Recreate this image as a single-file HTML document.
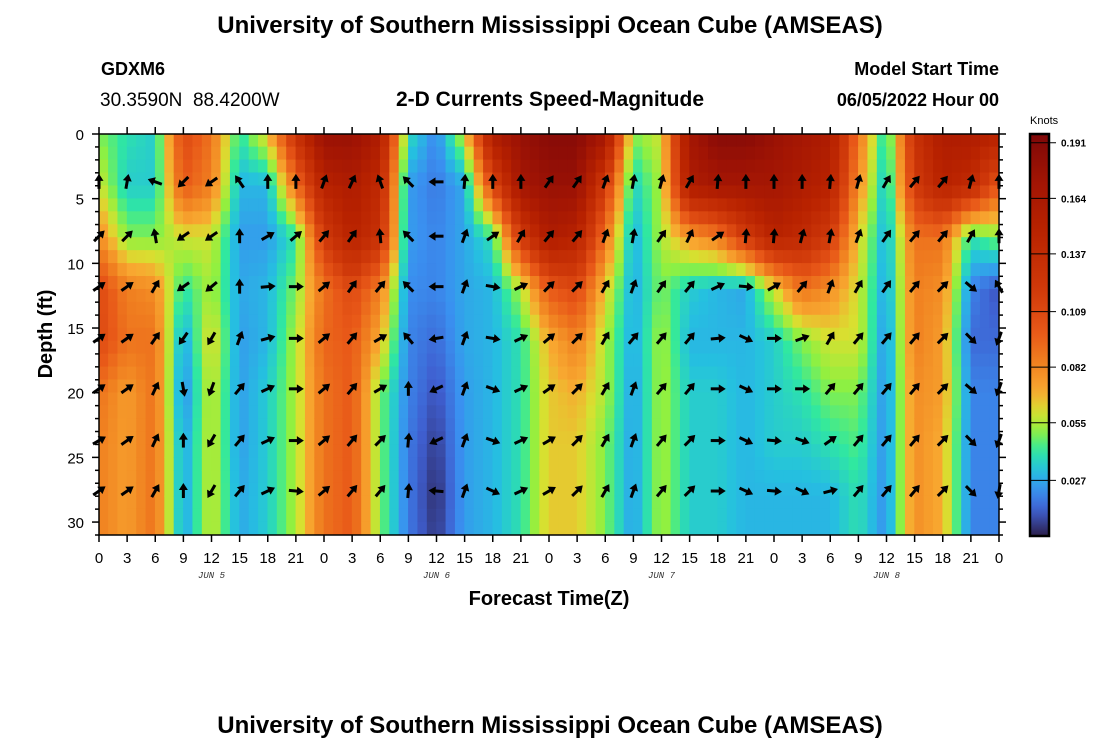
<!DOCTYPE html>
<html><head><meta charset="utf-8"><style>
body{margin:0;background:#fff;width:1100px;height:750px;overflow:hidden;font-family:"Liberation Sans",sans-serif}
svg{display:block}
</style></head><body>
<svg id="chart" width="1100" height="750" viewBox="0 0 1100 750" xmlns="http://www.w3.org/2000/svg">
<text x="550" y="33" text-anchor="middle" font-size="24" font-weight="bold">University of Southern Mississippi Ocean Cube (AMSEAS)</text>
<text x="101" y="75" font-size="18" font-weight="bold">GDXM6</text>
<text x="100" y="106" font-size="19" xml:space="preserve">30.3590N  88.4200W</text>
<text x="550" y="106" text-anchor="middle" font-size="21" font-weight="bold">2-D Currents Speed-Magnitude</text>
<text x="999" y="75" text-anchor="end" font-size="18" font-weight="bold">Model Start Time</text>
<text x="999" y="106" text-anchor="end" font-size="18" font-weight="bold">06/05/2022 Hour 00</text>
<g id="heat"></g>
<g id="arrows"></g>
<rect x="99" y="134" width="900" height="401" fill="none" stroke="#000" stroke-width="1.5"/>
<g id="axes"></g>
<text x="549" y="605" text-anchor="middle" font-size="20" font-weight="bold">Forecast Time(Z)</text>
<text transform="translate(52,334) rotate(-90)" text-anchor="middle" font-size="20" font-weight="bold">Depth (ft)</text>
<text x="1030" y="124" font-size="11">Knots</text>
<defs><linearGradient id="cbg" x1="0" y1="1" x2="0" y2="0"></linearGradient></defs>
<rect x="1030" y="134" width="19" height="402" fill="url(#cbg)" stroke="#000" stroke-width="2.5"/>
<g id="cbticks"></g>
<text x="550" y="733" text-anchor="middle" font-size="24" font-weight="bold">University of Southern Mississippi Ocean Cube (AMSEAS)</text>
</svg>
<script>
// ---- data ----
const hours = [0,3,6,9,12,15,18,21,24,27,30,33,36,39,42,45,48,51,54,57,60,63,66,69,72,75,78,81,84,87,90,93,96];
const tickLabels = ["0","3","6","9","12","15","18","21","0","3","6","9","12","15","18","21","0","3","6","9","12","15","18","21","0","3","6","9","12","15","18","21","0"];
const dateLabels = ["JUN 5","JUN 6","JUN 7","JUN 8"];
const dateHours = [12,36,60,84];
const depthLevels = [0,4,8,12,16,20,24,28,31];
const speed0  = [0.05,0.04,0.035,0.11,0.09,0.04,0.065,0.13,0.18,0.18,0.16,0.04,0.02,0.06,0.16,0.18,0.19,0.19,0.17,0.05,0.06,0.17,0.19,0.19,0.18,0.17,0.16,0.09,0.035,0.13,0.16,0.16,0.15];
const speed4  = [0.06,0.035,0.035,0.10,0.085,0.03,0.03,0.09,0.15,0.16,0.14,0.025,0.018,0.027,0.11,0.17,0.18,0.18,0.12,0.035,0.055,0.16,0.17,0.17,0.17,0.16,0.15,0.08,0.03,0.12,0.15,0.14,0.10];
const speed8  = [0.08,0.05,0.05,0.06,0.06,0.025,0.025,0.04,0.12,0.15,0.13,0.025,0.02,0.027,0.04,0.12,0.16,0.15,0.09,0.028,0.055,0.075,0.085,0.12,0.15,0.14,0.12,0.065,0.027,0.09,0.09,0.04,0.05];
const speed12 = [0.11,0.085,0.08,0.04,0.055,0.027,0.03,0.05,0.09,0.11,0.085,0.022,0.02,0.027,0.03,0.055,0.10,0.11,0.065,0.027,0.05,0.035,0.03,0.027,0.06,0.09,0.08,0.06,0.025,0.085,0.08,0.02,0.01];
const speed16 = [0.11,0.09,0.09,0.025,0.065,0.025,0.03,0.055,0.095,0.10,0.07,0.02,0.015,0.027,0.03,0.04,0.07,0.085,0.055,0.027,0.055,0.03,0.03,0.03,0.035,0.05,0.06,0.06,0.022,0.085,0.075,0.015,0.015];
const speed20 = [0.09,0.075,0.09,0.02,0.06,0.025,0.035,0.055,0.09,0.10,0.05,0.02,0.01,0.025,0.03,0.04,0.065,0.07,0.055,0.025,0.055,0.035,0.035,0.03,0.035,0.04,0.05,0.05,0.022,0.08,0.075,0.02,0.02];
const speed24 = [0.085,0.075,0.09,0.025,0.06,0.025,0.035,0.055,0.09,0.10,0.05,0.018,0.006,0.025,0.03,0.04,0.065,0.065,0.05,0.025,0.055,0.035,0.035,0.03,0.035,0.035,0.04,0.045,0.022,0.08,0.07,0.02,0.02];
const speed28 = [0.085,0.075,0.09,0.025,0.06,0.027,0.035,0.055,0.09,0.10,0.05,0.018,0.003,0.025,0.03,0.04,0.065,0.065,0.05,0.025,0.055,0.035,0.035,0.03,0.03,0.03,0.03,0.04,0.022,0.08,0.07,0.02,0.02];
const speed31 = [0.085,0.075,0.09,0.025,0.06,0.027,0.035,0.055,0.09,0.10,0.05,0.018,0.005,0.025,0.03,0.04,0.065,0.065,0.05,0.025,0.055,0.035,0.035,0.03,0.03,0.03,0.03,0.04,0.022,0.08,0.07,0.02,0.02];
const speedRows = [speed0,speed4,speed8,speed12,speed16,speed20,speed24,speed28,speed31];
const arrowDepths = [3.7,7.9,11.8,15.8,19.7,23.7,27.6];
const dir4  = [0,10,290,225,235,325,0,0,20,25,340,315,270,5,0,0,35,35,20,10,15,30,5,0,0,0,5,15,30,40,40,15,0];
const dir8  = [45,45,350,235,235,0,60,50,40,35,355,315,270,20,55,30,40,40,20,10,35,25,55,5,5,15,10,20,35,40,40,30,0];
const dir12 = [55,55,30,235,230,0,85,90,50,35,40,315,270,20,100,65,45,45,30,20,35,40,65,95,60,40,20,30,35,40,45,130,330];
const dir16 = [55,55,35,215,210,20,75,90,50,40,60,320,260,20,100,65,50,45,30,40,40,40,85,115,90,70,30,40,40,40,45,135,200];
const dir20 = [55,55,25,170,200,40,65,90,50,40,60,0,245,20,110,65,55,45,30,20,40,40,90,115,90,90,40,40,40,40,45,130,200];
const dir24 = [60,55,25,0,210,40,65,90,50,40,45,5,245,20,110,65,60,45,30,20,40,45,90,115,95,110,55,40,40,40,45,135,200];
const dir28 = [55,55,30,0,210,40,65,95,50,40,40,5,275,20,115,65,60,45,30,20,40,45,90,115,95,115,75,40,40,40,45,135,190];
const dirRows = [dir4,dir8,dir12,dir16,dir20,dir24,dir28];
const cbTicks = [0.027,0.055,0.082,0.109,0.137,0.164,0.191];

// ---- scales ----
const X0=99, X1=999, Y0=134, Y1=535;
const xs = h => X0 + (X1-X0)*h/96;
const ys = d => Y0 + (Y1-Y0)*d/31;
const cbY = v => 536 - v*2059;
const stops=[[0,[43,30,74]],[0.0126,[63,95,208]],[0.0223,[58,144,240]],[0.032,[37,192,224]],[0.042,[48,232,160]],[0.0515,[144,240,64]],[0.061,[216,224,48]],[0.071,[248,168,48]],[0.085,[240,128,32]],[0.10,[232,88,24]],[0.12,[208,58,10]],[0.15,[184,34,0]],[0.175,[160,20,4]],[0.195,[128,8,8]]];
function color(v){
  if(v<=stops[0][0]) return rgb(stops[0][1]);
  for(let i=1;i<stops.length;i++){ if(v<=stops[i][0]){ const a=stops[i-1],b=stops[i],t=(v-a[0])/(b[0]-a[0]); return rgb(a[1].map((c,k)=>c+(b[1][k]-c)*t)); } }
  return rgb(stops[stops.length-1][1]);
}
function rgb(c){return 'rgb('+c.map(Math.round).join(',')+')';}
const NS='http://www.w3.org/2000/svg';
function mk(tag,attrs,parent){const e=document.createElementNS(NS,tag);for(const k in attrs)e.setAttribute(k,attrs[k]);parent.appendChild(e);return e;}
function sample(h,d){
  let i=Math.min(Math.floor(h/3),hours.length-2); let tx=(h-hours[i])/3;
  let j=0; while(j<depthLevels.length-2 && d>depthLevels[j+1]) j++;
  let ty=(d-depthLevels[j])/(depthLevels[j+1]-depthLevels[j]);
  const a=speedRows[j][i],b=speedRows[j][i+1],c=speedRows[j+1][i],e=speedRows[j+1][i+1];
  return (a*(1-tx)+b*tx)*(1-ty)+(c*(1-tx)+e*tx)*ty;
}
// ---- heatmap ----
const heat=document.getElementById('heat');
for(let h=0;h<96;h++){for(let d=0;d<31;d++){
  const r=mk('rect',{x:xs(h)-0.3,y:ys(d)-0.3,width:xs(h+1)-xs(h)+0.6,height:ys(d+1)-ys(d)+0.6,fill:color(sample(h+0.5,d+0.5))},heat);
  
  
}}
// ---- arrows ----
const ag=document.getElementById('arrows');
dirRows.forEach((row,ri)=>{row.forEach((deg,ci)=>{
  const cx=xs(hours[ci]), cy=ys(arrowDepths[ri]);
  const g=mk('g',{transform:`translate(${cx},${cy}) rotate(${deg})`},ag);
  
  
  mk('line',{x1:0,y1:7,x2:0,y2:-3,stroke:'#000','stroke-width':3},g);
  mk('polygon',{points:'0,-8 -4.5,-1 4.5,-1',fill:'#000'},g);
});});
// ---- axes ----
const ax=document.getElementById('axes');
hours.forEach((h,i)=>{
  const x=xs(h);
  mk('line',{x1:x,y1:Y1,x2:x,y2:Y1+7,stroke:'#000','stroke-width':1.5},ax);
  mk('line',{x1:x,y1:Y0,x2:x,y2:Y0-7,stroke:'#000','stroke-width':1.5},ax);
  const t=mk('text',{x:x,y:563,'text-anchor':'middle','font-size':15},ax);
  
  
  t.textContent=tickLabels[i];
});
dateLabels.forEach((s,i)=>{
  const t=mk('text',{x:xs(dateHours[i]),y:578,'text-anchor':'middle','font-size':9,'font-style':'italic','font-family':'Liberation Mono, monospace',fill:'#333'},ax);
  
  
  t.textContent=s;
});
for(let d=0;d<=31;d++){
  const y=ys(d), major=d%5===0;
  mk('line',{x1:X0,y1:y,x2:X0-(major?7:4),y2:y,stroke:'#000','stroke-width':1.5},ax);
  mk('line',{x1:X1,y1:y,x2:X1+(major?7:4),y2:y,stroke:'#000','stroke-width':1.5},ax);
  if(major){
    const t=mk('text',{x:84,y:y+6,'text-anchor':'end','font-size':15},ax);
    
    
    t.textContent=String(d);
  }
}
// ---- colorbar ----
const grad=document.getElementById('cbg');
for(let k=0;k<=40;k++){const v=k/40*0.197;mk('stop',{offset:(k/40),'stop-color':color(v)},grad);}
const cbt=document.getElementById('cbticks');
cbTicks.forEach(v=>{
  const y=cbY(v);
  mk('line',{x1:1030,y1:y,x2:1056,y2:y,stroke:'#000','stroke-width':1},cbt);
  const t=mk('text',{x:1061,y:y+4,'font-size':10,'font-weight':'bold'},cbt);
  
  
  t.textContent=v.toFixed(3);
});
</script>
</body></html>
